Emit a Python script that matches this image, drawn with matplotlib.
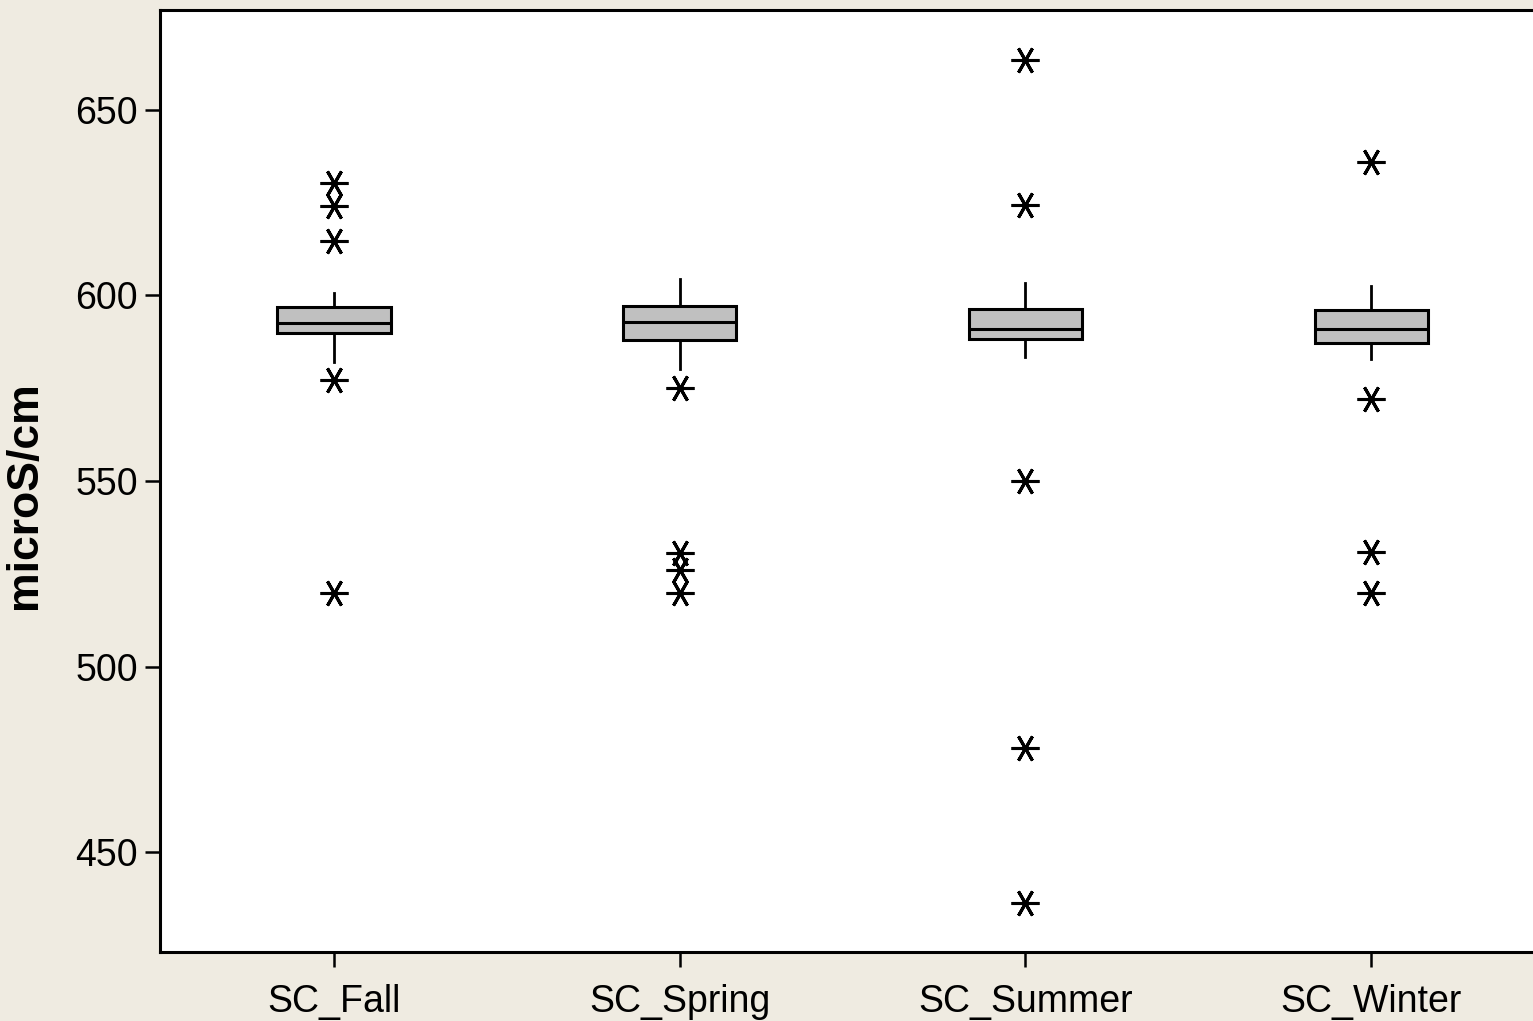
import matplotlib.pyplot as plt
from matplotlib import font_manager

names = {f.name for f in font_manager.fontManager.ttflist}
base = 'Liberation Sans Narrow' if 'Liberation Sans Narrow' in names else 'Liberation Sans'

plt.rcParams['font.family'] = [base, 'DejaVu Sans']

seasons = ['SC_Fall', 'SC_Spring', 'SC_Summer', 'SC_Winter']
q1 = [589.9, 588.0, 588.3, 587.2]
med = [592.6, 592.9, 591.0, 591.0]
q3 = [596.9, 597.2, 596.4, 596.1]
whis_lo = [582.1, 580.2, 583.4, 582.9]
whis_hi = [600.7, 604.4, 603.4, 602.6]
outliers = [
    [630.2, 624.2, 614.8, 577.2, 519.8],
    [575.0, 530.7, 526.0, 519.8],
    [663.5, 624.4, 550.0, 478.0, 436.3],
    [636.0, 572.1, 530.9, 519.8],
]

stats = []
for i, s in enumerate(seasons):
    stats.append({'label': s, 'q1': q1[i], 'med': med[i], 'q3': q3[i],
                  'whislo': whis_lo[i], 'whishi': whis_hi[i], 'fliers': outliers[i]})

bg = '#EFEBE1'
fig = plt.figure(figsize=(15.33, 10.21), dpi=100, facecolor=bg)
# axes runs past the right edge like the original
ax = fig.add_axes([160 / 1533, 1 - 952 / 1021, 1420 / 1533, 942 / 1021])
ax.set_facecolor('white')

ax.bxp(stats, positions=[1, 2, 3, 4], widths=0.327, patch_artist=True,
       showcaps=False,
       boxprops=dict(facecolor='#C0C0C0', edgecolor='black', linewidth=2.2),
       medianprops=dict(color='black', linewidth=2.2),
       whiskerprops=dict(color='black', linewidth=2.0),
       flierprops=dict(marker=(6, 2, 90), markersize=20, markeredgewidth=2.2,
                       markeredgecolor='black', linestyle='none'))

ax.set_xlim(0.4966, 0.4966 + 1420 / 345.67)
ax.set_ylim(423.05, 676.95)
ax.set_yticks([450, 500, 550, 600, 650])
ax.set_xticks([1, 2, 3, 4])
ax.set_xticklabels(seasons)

for side in ['left', 'bottom', 'top', 'right']:
    ax.spines[side].set_linewidth(2.2)
ax.tick_params(axis='both', direction='out', length=11, width=1.8, labelsize=27,
               top=False, right=False)
ax.tick_params(axis='x', pad=12)
ax.tick_params(axis='y', pad=5)

ax.set_ylabel('microS/cm', fontsize=32, fontweight='bold',
              family=['Liberation Sans', 'DejaVu Sans'])
ax.yaxis.set_label_coords(-0.081, 0.485)

fig.savefig('out.png', dpi=100, facecolor=bg)
